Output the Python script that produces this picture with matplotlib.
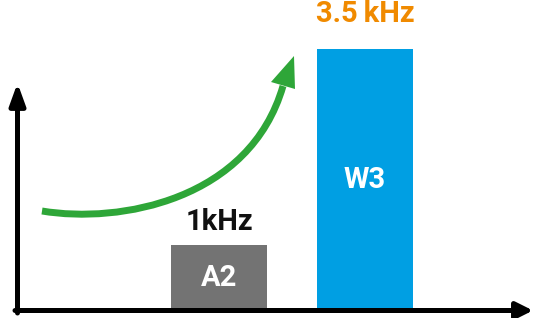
import matplotlib
matplotlib.use("Agg")
import matplotlib.pyplot as plt
from matplotlib.path import Path
from matplotlib.patches import PathPatch, Polygon

plt.rcParams['font.family'] = ['Roboto', 'DejaVu Sans']

# Data (schematic heights in arbitrary units)
categories = ['A2', 'W3']
heights = [66, 262]
positions = [219, 365]
value_labels = ['1kHz', '3.5\u2009kHz']
bar_colors = ['#737373', '#009FE3']
label_colors = ['#111111', '#F08A00']
label_offsets = [9, 20]

W, H = 533, 318
fig = plt.figure(figsize=(W / 100, H / 100), dpi=100)
ax = fig.add_axes([0, 0, 1, 1])
ax.set_xlim(0, W)
ax.set_ylim(-7.5, 310.5)
ax.axis('off')

bars = ax.bar(positions, heights, width=96, color=bar_colors, zorder=2)
for b, cat, lab, lc, off in zip(bars, categories, value_labels, label_colors, label_offsets):
    cx = b.get_x() + b.get_width() / 2
    h = b.get_height()
    ax.text(cx, h / 2, cat, ha='center', va='center', color='white',
            fontsize=21, fontweight='bold', zorder=3)
    ax.text(cx, h + off, lab, ha='center', va='bottom', color=lc,
            fontsize=21, fontweight='bold', zorder=3)

# axes arrows
ax.annotate('', xy=(17.5, 227.5), xytext=(17.5, -2.5),
            arrowprops=dict(arrowstyle='-|>,head_length=1.3,head_width=0.47',
                            lw=3.6, color='black', mutation_scale=10,
                            shrinkA=0, shrinkB=0), zorder=4)
ax.annotate('', xy=(533, 0), xytext=(15, 0),
            arrowprops=dict(arrowstyle='-|>,head_length=1.0,head_width=0.5',
                            lw=3.6, color='black', mutation_scale=10,
                            shrinkA=0, shrinkB=0), zorder=4)

# green growth arrow (pixel coordinates converted to data y)
def P(x, y):
    return (x, 310.5 - y)

green = '#2EA638'
verts = [P(42, 211), P(120, 224), P(250, 200), P(283, 86)]
path = Path(verts, [Path.MOVETO, Path.CURVE4, Path.CURVE4, Path.CURVE4])
ax.add_patch(PathPatch(path, facecolor='none', edgecolor=green, lw=5,
                       capstyle='butt', zorder=3))
ax.add_patch(Polygon([P(294, 56), P(271, 82), P(295, 89)], closed=True,
                     facecolor=green, edgecolor='none', zorder=3))

fig.savefig('out.png', dpi=100)
